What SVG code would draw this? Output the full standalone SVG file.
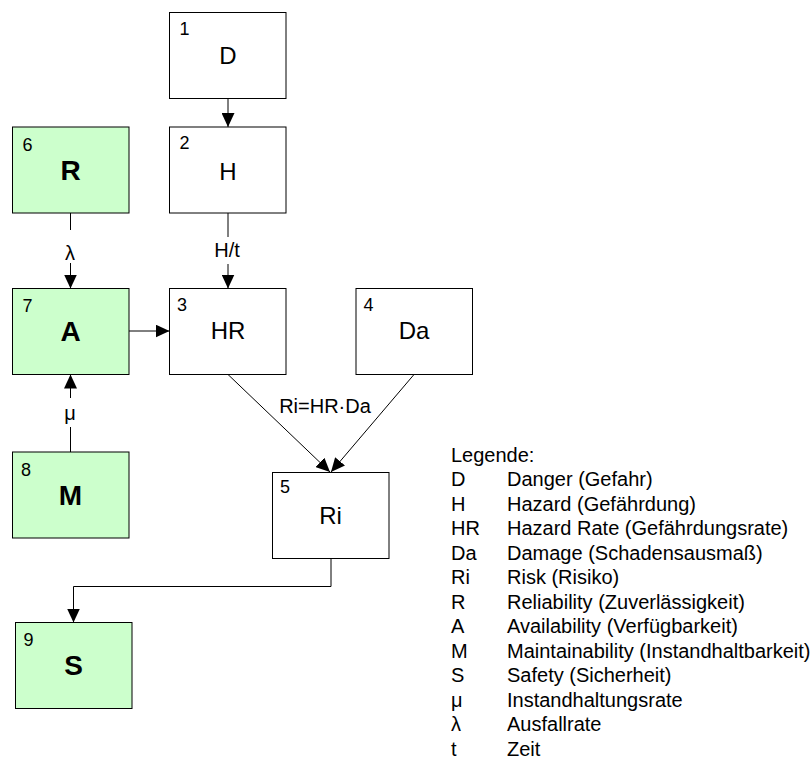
<svg xmlns="http://www.w3.org/2000/svg" width="812" height="760" viewBox="0 0 812 760">
<style>
text { font-family: "Liberation Sans", Arial, sans-serif; fill: #000; }
.box { fill: #ffffff; stroke: #000; stroke-width: 1; }
.gbox { fill: #ccffcc; stroke: #000; stroke-width: 1; }
.num { font-size: 18px; }
.lbl { font-size: 24px; text-anchor: middle; }
.blbl { font-size: 28px; font-weight: bold; text-anchor: middle; }
.clbl { font-size: 20px; text-anchor: middle; }
.leg { font-size: 20px; }
.ln { fill: none; stroke: #000; stroke-width: 1; }
.arr { marker-end: url(#ah); }
</style>
<defs>
<marker id="ah" markerUnits="userSpaceOnUse" markerWidth="14" markerHeight="13" refX="14" refY="6.5" orient="auto">
<path d="M0,0 L14,6.5 L0,13 z" fill="#000"/>
</marker>
</defs>
<rect width="812" height="760" fill="#ffffff"/>
<g id="connectors">
<line class="ln arr" x1="228" y1="98.5" x2="228" y2="127"/>
<line class="ln" x1="228" y1="213" x2="228" y2="237"/>
<line class="ln arr" x1="228" y1="264" x2="228" y2="288.5"/>
<text class="clbl" x="227" y="257">H/t</text>
<line class="ln" x1="70.5" y1="213" x2="70.5" y2="230"/>
<line class="ln arr" x1="70.5" y1="263" x2="70.5" y2="288.5"/>
<text class="clbl" x="70" y="260">λ</text>
<line class="ln arr" x1="70.5" y1="398" x2="70.5" y2="374.5"/>
<line class="ln" x1="70.5" y1="427" x2="70.5" y2="452"/>
<text class="clbl" x="70" y="420">μ</text>
<line class="ln arr" x1="129" y1="331" x2="169.5" y2="331"/>
<line class="ln arr" x1="228" y1="374.5" x2="330" y2="472"/>
<line class="ln arr" x1="414" y1="374.5" x2="331" y2="472"/>
<text class="clbl" x="325" y="413">Ri=HR·Da</text>
<polyline class="ln arr" points="331,558.5 331,586.5 73.5,586.5 73.5,622.5"/>
</g>
<g id="n1"><rect class="box" x="169.5" y="12.5" width="116.5" height="86"/><text class="num" x="179.5" y="35">1</text><text class="lbl" x="228" y="63.5">D</text></g>
<g id="n2"><rect class="box" x="169.5" y="127" width="116.5" height="86"/><text class="num" x="179.5" y="148.5">2</text><text class="lbl" x="228" y="179.5">H</text></g>
<g id="n3"><rect class="box" x="169.5" y="288.5" width="116.5" height="86"/><text class="num" x="177" y="311">3</text><text class="lbl" x="228" y="338.5">HR</text></g>
<g id="n4"><rect class="box" x="356" y="288.5" width="116.5" height="86"/><text class="num" x="363.5" y="310.5">4</text><text class="lbl" x="414" y="338.5">Da</text></g>
<g id="n5"><rect class="box" x="272.5" y="472.5" width="116.5" height="86"/><text class="num" x="280" y="493">5</text><text class="lbl" x="330.5" y="523.5">Ri</text></g>
<g id="n6"><rect class="gbox" x="12.5" y="127" width="116.5" height="86"/><text class="num" x="22.5" y="150.5">6</text><text class="blbl" x="70.5" y="180">R</text></g>
<g id="n7"><rect class="gbox" x="12.5" y="288.5" width="116.5" height="86"/><text class="num" x="22.5" y="311.5">7</text><text class="blbl" x="70.5" y="341">A</text></g>
<g id="n8"><rect class="gbox" x="12.5" y="452" width="116.5" height="86"/><text class="num" x="21" y="476">8</text><text class="blbl" x="70.5" y="505">M</text></g>
<g id="n9"><rect class="gbox" x="15.5" y="622.5" width="116.5" height="86"/><text class="num" x="23.5" y="645.5">9</text><text class="blbl" x="73.5" y="675">S</text></g>
<g id="legend" class="leg">
<text class="leg" x="451" y="461.5">Legende:</text>
<text class="leg" x="451" y="486">D</text><text class="leg" x="507" y="486">Danger (Gefahr)</text>
<text class="leg" x="451" y="510.5">H</text><text class="leg" x="507" y="510.5">Hazard (Gefährdung)</text>
<text class="leg" x="451" y="535">HR</text><text class="leg" x="507" y="535">Hazard Rate (Gefährdungsrate)</text>
<text class="leg" x="451" y="559.5">Da</text><text class="leg" x="507" y="559.5">Damage (Schadensausmaß)</text>
<text class="leg" x="451" y="584">Ri</text><text class="leg" x="507" y="584">Risk (Risiko)</text>
<text class="leg" x="451" y="608.5">R</text><text class="leg" x="507" y="608.5">Reliability (Zuverlässigkeit)</text>
<text class="leg" x="451" y="633">A</text><text class="leg" x="507" y="633">Availability (Verfügbarkeit)</text>
<text class="leg" x="451" y="657.5">M</text><text class="leg" x="507" y="657.5">Maintainability (Instandhaltbarkeit)</text>
<text class="leg" x="451" y="682">S</text><text class="leg" x="507" y="682">Safety (Sicherheit)</text>
<text class="leg" x="451" y="706.5">μ</text><text class="leg" x="507" y="706.5">Instandhaltungsrate</text>
<text class="leg" x="451" y="731">λ</text><text class="leg" x="507" y="731">Ausfallrate</text>
<text class="leg" x="451" y="755.5">t</text><text class="leg" x="507" y="755.5">Zeit</text>
</g>
</svg>
